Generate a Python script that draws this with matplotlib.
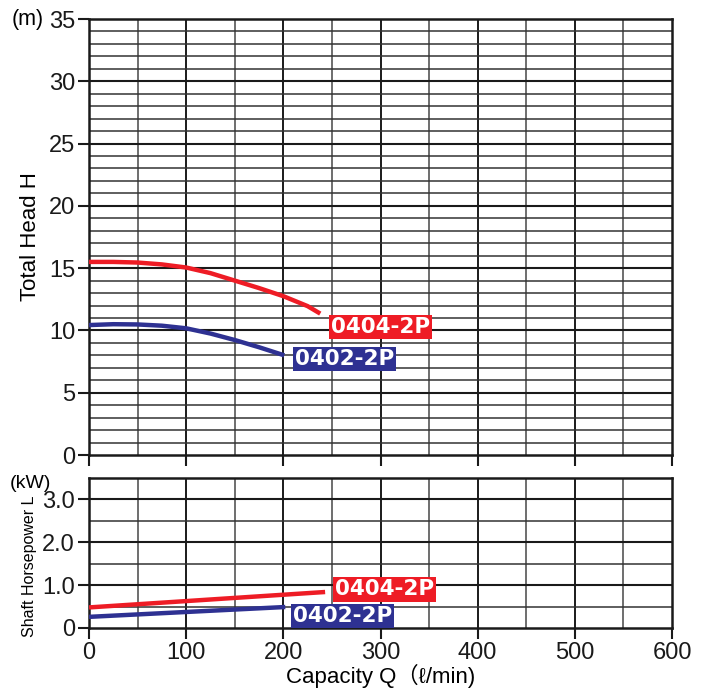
import matplotlib
matplotlib.use("Agg")
import matplotlib.pyplot as plt
import numpy as np

plt.rcParams['font.family'] = ['Liberation Sans', 'Noto Sans CJK JP', 'DejaVu Sans']

# ---- data ----
q_0404_head = [0, 25, 50, 75, 100, 125, 150, 175, 200, 225, 238]
h_0404 = [15.5, 15.5, 15.45, 15.3, 15.05, 14.6, 14.0, 13.4, 12.75, 11.95, 11.35]
q_0402_head = [0, 25, 50, 75, 100, 125, 150, 175, 201]
h_0402 = [10.43, 10.5, 10.48, 10.38, 10.17, 9.75, 9.23, 8.65, 8.0]

q_0404_pow = [0, 243]
p_0404 = [0.48, 0.84]
q_0402_pow = [0, 202]
p_0402 = [0.26, 0.49]

x_ticks = [0, 100, 200, 300, 400, 500, 600]
head_ticks = [0, 5, 10, 15, 20, 25, 30, 35]
pow_ticks = [0, 1.0, 2.0, 3.0]
pow_tick_labels = ["0", "1.0", "2.0", "3.0"]

RED = "#ee1c25"
BLUE = "#2e3192"

fig = plt.figure(figsize=(7.09, 6.88), dpi=100)
ax1 = fig.add_axes([89/709, 1-455/688, 583/709, 436/688])
ax2 = fig.add_axes([89/709, 1-628/688, 583/709, 150/688])

def grid(ax, ymax, ystep, ymajor):
    for x in np.arange(50, 600, 50):
        major = (x % 100 == 0)
        ax.axvline(x, color="#1a1a1a" if major else "#555555", lw=1.4 if major else 1.2, zorder=1)
    for y in np.arange(ystep, ymax, ystep):
        major = abs(y/ymajor - round(y/ymajor)) < 1e-6
        ax.axhline(y, color="#1a1a1a" if major else "#333333", lw=1.5 if major else 1.1, zorder=1)
    for s in ax.spines.values():
        s.set_linewidth(1.8)
        s.set_color("#1a1a1a")

label_kw = dict(color="white", fontsize=15.5, fontweight="bold", family="DejaVu Sans",
                ha="left", va="center", zorder=4)
bbox_r = dict(boxstyle="square,pad=0.1", fc=RED, ec="none")
bbox_b = dict(boxstyle="square,pad=0.1", fc=BLUE, ec="none")

ax1.set_xlim(0, 600)
ax1.set_ylim(0, 35)
grid(ax1, 35, 1, 5)
ax1.plot(q_0404_head, h_0404, color=RED, lw=3.2, zorder=3, solid_capstyle='butt')
ax1.plot(q_0402_head, h_0402, color=BLUE, lw=3.2, zorder=3, solid_capstyle='butt')
ax1.set_yticks(head_ticks)
ax1.set_yticklabels([str(t) for t in head_ticks])
ax1.set_xticks(x_ticks)
ax1.set_xticklabels([])
ax1.tick_params(axis='y', direction='out', length=8, width=1.5, labelsize=17, pad=2, colors="#1a1a1a")
ax1.tick_params(axis='x', direction='out', length=8, width=1.5, colors="#1a1a1a")
ax1.set_ylabel("Total Head H", fontsize=16, labelpad=6)
fig.text(12/709, 1-20/688, "(m)", fontsize=15.5, va='center', ha='left')

ax1.text(249, 10.27, "0404-2P", bbox=bbox_r, **label_kw)
ax1.text(212, 7.7, "0402-2P", bbox=bbox_b, **label_kw)

ax2.set_xlim(0, 600)
ax2.set_ylim(0, 3.5)
grid(ax2, 3.5, 0.5, 1.0)
ax2.plot(q_0404_pow, p_0404, color=RED, lw=3.2, zorder=3, solid_capstyle='butt')
ax2.plot(q_0402_pow, p_0402, color=BLUE, lw=3.2, zorder=3, solid_capstyle='butt')
ax2.set_yticks(pow_ticks)
ax2.set_yticklabels(pow_tick_labels)
ax2.set_xticks(x_ticks)
ax2.set_xticklabels([str(t) for t in x_ticks])
ax2.tick_params(axis='both', direction='out', length=8, width=1.5, labelsize=17, pad=2, colors="#1a1a1a")
ax2.set_xlabel("Capacity Q（ℓ/min)", fontsize=16, labelpad=0)
fig.text(30/709, 1-566/688, "Shaft Horsepower L", fontsize=11.5, rotation=90,
         va='center', ha='center')
fig.text(10/709, 1-484/688, "(kW)", fontsize=14, va='center', ha='left')
ax2.text(253, 0.90, "0404-2P", bbox=bbox_r, **label_kw)
ax2.text(210, 0.28, "0402-2P", bbox=bbox_b, **label_kw)

fig.savefig("out.png", dpi=100)
